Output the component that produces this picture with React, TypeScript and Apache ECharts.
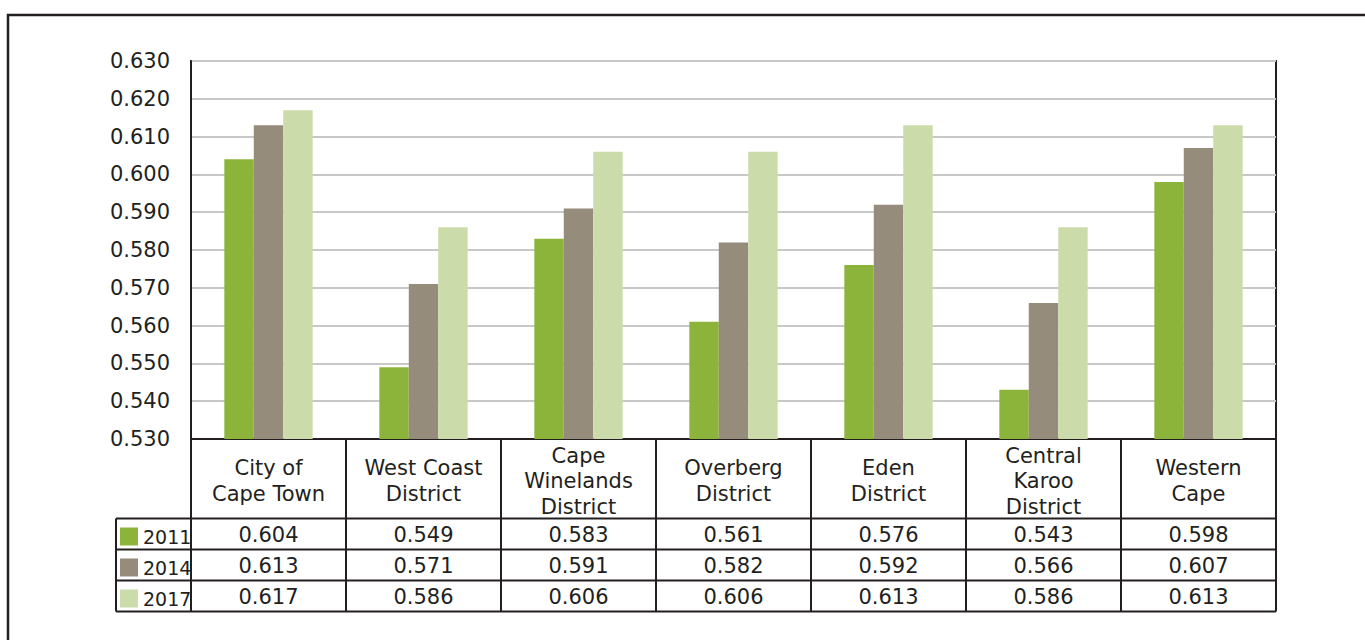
import React, { useEffect, useRef } from "react";
import * as echarts from "echarts";

// Human development index by district, Western Cape
const categories = [
  "City of\nCape Town",
  "West Coast\nDistrict",
  "Cape\nWinelands\nDistrict",
  "Overberg\nDistrict",
  "Eden\nDistrict",
  "Central\nKaroo\nDistrict",
  "Western\nCape",
];
const years = ["2011", "2014", "2017"];
const values2011 = [0.604, 0.549, 0.583, 0.561, 0.576, 0.543, 0.598];
const values2014 = [0.613, 0.571, 0.591, 0.582, 0.592, 0.566, 0.607];
const values2017 = [0.617, 0.586, 0.606, 0.606, 0.613, 0.586, 0.613];
const yMin = 0.53;
const yMax = 0.63;
const yStep = 0.01;

const seriesValues = [values2011, values2014, values2017];
const seriesColors = ["#8cb43a", "#968c7b", "#cbdba9"];

const INK = "#231f20";
const FONT = "DejaVu Sans";

// layout
const GL = 191;
const GT = 61;
const GW = 1085;
const GH = 378;
const AXIS_Y = GT + GH;
const HEADER_BOTTOM = 518.5;
const ROW_H = 31;
const LEGEND_LEFT = 116;

function buildTable() {
  const els: any[] = [];
  const n = categories.length;
  const colW = GW / n;
  const right = GL + GW;
  const tableBottom = HEADER_BOTTOM + ROW_H * years.length;
  const line = (x1: number, y1: number, x2: number, y2: number) => ({
    type: "line",
    silent: true,
    z: 10,
    shape: { x1, y1, x2, y2 },
    style: { stroke: INK, lineWidth: 2 },
  });

  // horizontal rules
  for (let r = 0; r <= years.length; r++) {
    const y = HEADER_BOTTOM + r * ROW_H;
    els.push(line(LEGEND_LEFT, y, right, y));
  }
  // vertical rules
  els.push(line(LEGEND_LEFT, HEADER_BOTTOM, LEGEND_LEFT, tableBottom));
  for (let i = 0; i <= n; i++) {
    const x = GL + i * colW;
    els.push(line(x, AXIS_Y, x, tableBottom));
  }
  // header names
  categories.forEach((c, i) => {
    els.push({
      type: "text",
      silent: true,
      z: 10,
      x: GL + (i + 0.5) * colW,
      y: 481,
      style: {
        text: c,
        fill: INK,
        fontFamily: FONT,
        fontSize: 21,
        lineHeight: 25.5,
        align: "center",
        verticalAlign: "middle",
      },
    });
  });
  // values
  seriesValues.forEach((vals, r) => {
    vals.forEach((v, i) => {
      els.push({
        type: "text",
        silent: true,
        z: 10,
        x: GL + (i + 0.5) * colW,
        y: HEADER_BOTTOM + (r + 0.5) * ROW_H + 1,
        style: {
          text: v.toFixed(3),
          fill: INK,
          fontFamily: FONT,
          fontSize: 21,
          align: "center",
          verticalAlign: "middle",
        },
      });
    });
  });
  // outer frame
  els.push({
    type: "rect",
    silent: true,
    z: 10,
    shape: { x: 8, y: 15, width: 1420, height: 700 },
    style: { stroke: INK, lineWidth: 2.5, fill: "none" },
  });
  return els;
}

export default function App() {
  const ref = useRef<HTMLDivElement>(null);

  useEffect(() => {
    if (!ref.current) return;
    const chart = echarts.init(ref.current, undefined, { renderer: "svg" });
    chart.setOption({
      animation: false,
      backgroundColor: "#ffffff",
      textStyle: { fontFamily: FONT, color: INK },
      grid: {
        left: GL,
        top: GT,
        width: GW,
        height: GH,
        show: true,
        borderColor: INK,
        borderWidth: 2,
        containLabel: false,
      },
      legend: {
        orient: "vertical",
        left: 120,
        top: 527,
        padding: 0,
        itemWidth: 18,
        itemHeight: 18,
        itemGap: 12,
        itemTextGap: 1,
        icon: "rect",
        data: years,
        textStyle: { fontFamily: FONT, fontSize: 19, color: INK, lineHeight: 18 },
      },
      xAxis: {
        type: "category",
        data: categories,
        axisLabel: { show: false },
        axisTick: { show: false },
        axisLine: { show: true, lineStyle: { color: INK, width: 2 } },
      },
      yAxis: {
        type: "value",
        min: yMin,
        max: yMax,
        interval: yStep,
        axisLabel: {
          fontFamily: FONT,
          fontSize: 21,
          color: INK,
          margin: 21,
          padding: [4, 0, 0, 0],
          formatter: (v: number) => v.toFixed(3),
        },
        axisLine: { show: true, lineStyle: { color: INK, width: 2 } },
        axisTick: { show: false },
        splitLine: { lineStyle: { color: "#c8c8c8", width: 2 } },
      },
      series: years.map((y, i) => ({
        name: y,
        type: "bar",
        data: seriesValues[i],
        barGap: "0%",
        barCategoryGap: "43%",
        itemStyle: { color: seriesColors[i] },
      })),
      graphic: buildTable(),
    });
    return () => chart.dispose();
  }, []);

  return (
    <div
      ref={ref}
      style={{ position: "absolute", left: 0, top: 0, width: 1365, height: 640 }}
    />
  );
}
